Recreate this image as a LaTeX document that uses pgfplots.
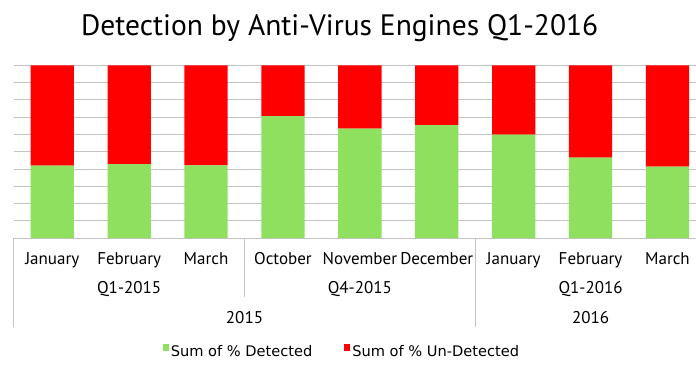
\documentclass[border=0pt]{standalone}
\usepackage{fontspec}
\setmainfont{PT Sans}
\newfontfamily\legfont{DejaVu Sans}
\usepackage{pgfplots}
\pgfplotsset{compat=1.18}
\definecolor{detgreen}{RGB}{144,224,96}
\definecolor{undred}{RGB}{255,0,0}
\definecolor{gridgray}{RGB}{195,195,195}
\tikzset{lab/.style={anchor=base, font=\fontsize{17}{19}\selectfont, inner sep=0pt}}
\begin{document}
\begin{tikzpicture}
\path[use as bounding box] (0pt,0pt) rectangle (696pt,-385pt);
\node[anchor=base, font=\fontsize{29.5}{32}\selectfont] at (339.7pt,-35.7pt) {Detection by Anti-Virus Engines Q1-2016};
\begin{axis}[
  at={(13.8pt,-238pt)}, anchor=south west,
  scale only axis, width=682.2pt, height=172.7pt,
  xmin=-0.5, xmax=8.371, ymin=0, ymax=100,
  ybar stacked, bar width=43.3pt,
  xtick=\empty,
  ytick={0,10,...,100}, yticklabels={},
  major tick length=0pt,
  ymajorgrids, grid style={draw=gridgray, line width=0.8pt},
  axis line style={draw=none},
  clip=false,
  legend columns=2,
  legend style={at={(0.481,-0.66)}, anchor=center, draw=none, fill=none,
    font=\legfont\fontsize{14.6}{16}\selectfont,
    /tikz/every even column/.append style={column sep=30pt}},
  legend image code/.code={\fill[#1] (0pt,1pt) rectangle (6pt,8pt);},
]
\addplot+[fill=detgreen, draw=none] coordinates {(0,41.9) (1,42.8) (2,42.1) (3,70.6) (4,63.3) (5,65.3) (6,59.8) (7,46.5) (8,41.3)};
\addlegendentry{Sum of \% Detected}
\addplot+[fill=undred, draw=none] coordinates {(0,58.1) (1,57.2) (2,57.9) (3,29.4) (4,36.7) (5,34.7) (6,40.2) (7,53.5) (8,58.7)};
\addlegendentry{Sum of \% Un-Detected}
\draw[gridgray, line width=0.8pt] (axis cs:-0.5,0) -- ([yshift=-89pt]axis cs:-0.5,0);
\draw[gridgray, line width=0.8pt] (axis cs:2.5,0) -- ([yshift=-59pt]axis cs:2.5,0);
\draw[gridgray, line width=0.8pt] (axis cs:5.5,0) -- ([yshift=-89pt]axis cs:5.5,0);
\node[lab] at ([yshift=-26pt]axis cs:0,0) {January};
\node[lab] at ([yshift=-26pt]axis cs:1,0) {February};
\node[lab] at ([yshift=-26pt]axis cs:2,0) {March};
\node[lab] at ([yshift=-26pt]axis cs:3,0) {October};
\node[lab] at ([yshift=-26pt]axis cs:4,0) {November};
\node[lab] at ([yshift=-26pt]axis cs:5,0) {December};
\node[lab] at ([yshift=-26pt]axis cs:6,0) {January};
\node[lab] at ([yshift=-26pt]axis cs:7,0) {February};
\node[lab] at ([yshift=-26pt]axis cs:8,0) {March};
\node[lab] at ([yshift=-55.3pt]axis cs:1,0) {Q1-2015};
\node[lab] at ([yshift=-55.3pt]axis cs:4,0) {Q4-2015};
\node[lab] at ([yshift=-55.3pt]axis cs:7,0) {Q1-2016};
\node[lab] at ([yshift=-85.3pt]axis cs:2.5,0) {2015};
\node[lab] at ([yshift=-85.3pt]axis cs:7,0) {2016};
\end{axis}
\end{tikzpicture}
\end{document}
